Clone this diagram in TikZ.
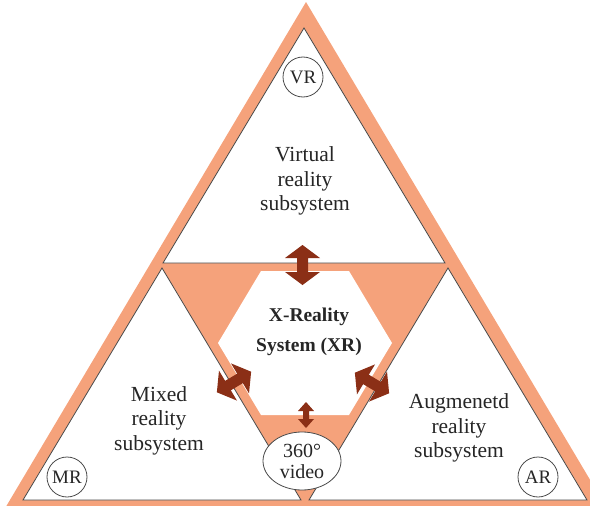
\documentclass[tikz,border=0pt]{standalone}
\usepackage{fontspec}
\setmainfont{Liberation Serif}
\usetikzlibrary{shapes.geometric}
\definecolor{xrorange}{HTML}{F5A27B}
\definecolor{xrbrown}{HTML}{8B2F16}
\definecolor{xrline}{HTML}{4A4A4A}
\tikzset{
  panel/.style={fill=white,draw=xrline,line width=0.8pt,line join=miter},
  subtext/.style={align=center,text=black!85,inner sep=0pt,
    font=\fontsize{21.5}{24.5}\selectfont},
  badge/.style={circle,draw=xrline,line width=0.8pt,fill=white,
    minimum size=40pt,inner sep=0pt,text=black!85,font=\fontsize{19}{20}\selectfont},
  % block double arrows, drawn along the local x axis
  pics/bigarrow/.style={code={
    \fill[xrbrown] (-20,0) -- (-7,17.5) -- (-7,5.5) -- (7,5.5) -- (7,17.5)
      -- (20,0) -- (7,-17.5) -- (7,-5.5) -- (-7,-5.5) -- (-7,-17.5) -- cycle;}},
  pics/smallarrow/.style={code={
    \fill[xrbrown] (-13,0) -- (-4,8) -- (-4,3) -- (4,3) -- (4,8)
      -- (13,0) -- (4,-8) -- (4,-3) -- (-4,-3) -- (-4,-8) -- cycle;}}
}
\begin{document}
\begin{tikzpicture}[x=1pt,y=-1pt]
\useasboundingbox (0,0) rectangle (590,506);
\clip (0,0) rectangle (590,506);

% outer orange frame
\fill[xrorange] (306,2) -- (608,510) -- (4,510) -- cycle;

% the three subsystem panels
\draw[panel] (304,28) -- (445,263) -- (163,263) -- cycle;
\draw[panel] (162,268) -- (301,500) -- (23,500) -- cycle;
\draw[panel] (448,268) -- (587,500) -- (309,500) -- cycle;

% central hexagon
\fill[white] (261,271) -- (349,271) -- (392,343) -- (349,415)
  -- (261,415) -- (218,343) -- cycle;

% 360 video ellipse
\node[ellipse,draw=xrline,line width=0.8pt,fill=white,minimum width=78pt,
  minimum height=58pt,inner sep=0pt,align=center,text=black!85,
  font=\fontsize{20}{21}\selectfont] (video) at (302,461) {360°\\video};

% arrows between XR and the subsystems
\pic[rotate=90] at (302.5,265) {bigarrow};
\pic[rotate=31] at (234,382) {bigarrow};
\pic[rotate=-31] at (372,383) {bigarrow};
\pic[rotate=90] at (306,415) {smallarrow};

% badges
\node[badge] (vr) at (303,77) {VR};
\node[badge] (mr) at (67,477) {MR};
\node[badge] (ar) at (538,477) {AR};

% texts
\node[subtext] (vrtext) at (305,181) {Virtual\\reality\\subsystem};
\node[subtext] (mrtext) at (159,420.5) {Mixed\\reality\\subsystem};
\node[subtext] (artext) at (459,428) {Augmenetd\\reality\\subsystem};
\node[subtext,font=\fontsize{19.5}{30}\selectfont\bfseries] (xr) at (309,332)
  {X-Reality\\System (XR)};
\end{tikzpicture}
\end{document}
